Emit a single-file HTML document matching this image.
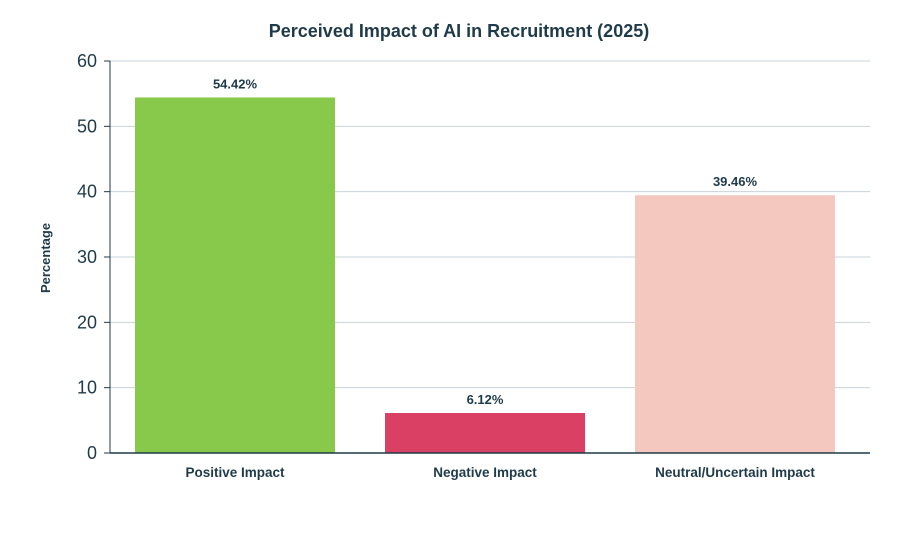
<!DOCTYPE html>
<html><head><meta charset="utf-8"><style>
body{margin:0;background:#fff;font-family:"Liberation Sans",sans-serif;}
svg text{font-family:"Liberation Sans",sans-serif;fill:#1f3a48;}
</style></head><body>
<svg id="chart" width="917" height="540" xmlns="http://www.w3.org/2000/svg">
<text x="459" y="37" text-anchor="middle" font-size="18" font-weight="bold">Perceived Impact of AI in Recruitment (2025)</text>
<text transform="translate(50,258) rotate(-90)" text-anchor="middle" font-size="13" font-weight="bold">Percentage</text>
<g id="grid"></g><g id="bars"></g><g id="axes"></g>
</svg>
<script>
const categories=["Positive Impact","Negative Impact","Neutral/Uncertain Impact"];
const values=[54.42,6.12,39.46];
const valueLabels=["54.42%","6.12%","39.46%"];
const colors=["#88c94b","#d94064","#f4c7bf"];
const yTicks=[0,10,20,30,40,50,60];
const NS="http://www.w3.org/2000/svg";
const x0=110,x1=860,gx1=870,yTop=61,yBot=453,yMax=60;
const y=v=>yBot-(v/yMax)*(yBot-yTop);
const band=(x1-x0)/categories.length;
const bx=i=>x0+band*i+band*0.1;
const bw=band*0.8;
function mk(tag,attrs,parent){const e=document.createElementNS(NS,tag);for(const k in attrs)e.setAttribute(k,attrs[k]);parent.appendChild(e);return e;}
const grid=document.getElementById('grid'),bars=document.getElementById('bars'),axes=document.getElementById('axes');
yTicks.forEach(t=>{
  const l=mk('line',{x1:x0,x2:gx1,y1:y(t),y2:y(t),stroke:'#c9d3d8','stroke-width':1},grid);
  
  
  const tk=mk('line',{x1:x0-6,x2:x0,y1:y(t),y2:y(t),stroke:'#1f3a48','stroke-width':1},axes);
  
  
  const tx=mk('text',{x:x0-13,y:y(t)+6,'text-anchor':'end','font-size':18},axes);
  tx.textContent=t;
  
  
});
const ax=mk('line',{x1:x0,x2:x0,y1:yTop,y2:yBot,stroke:'#1f3a48','stroke-width':1},axes);


const bxl=mk('line',{x1:x0,x2:gx1,y1:yBot,y2:yBot,stroke:'#1f3a48','stroke-width':1.5},axes);


categories.forEach((c,i)=>{
  const r=mk('rect',{x:bx(i),y:y(values[i]),width:bw,height:yBot-y(values[i]),fill:colors[i]},bars);
  
  
  const vl=mk('text',{x:bx(i)+bw/2,y:y(values[i])-9,'text-anchor':'middle','font-size':13,'font-weight':'bold'},bars);
  vl.textContent=valueLabels[i];
  
  
  const cl=mk('text',{x:bx(i)+bw/2,y:yBot+24,'text-anchor':'middle','font-size':13.5,'font-weight':'bold'},axes);
  cl.textContent=c;
  
  
});
</script>
</body></html>
